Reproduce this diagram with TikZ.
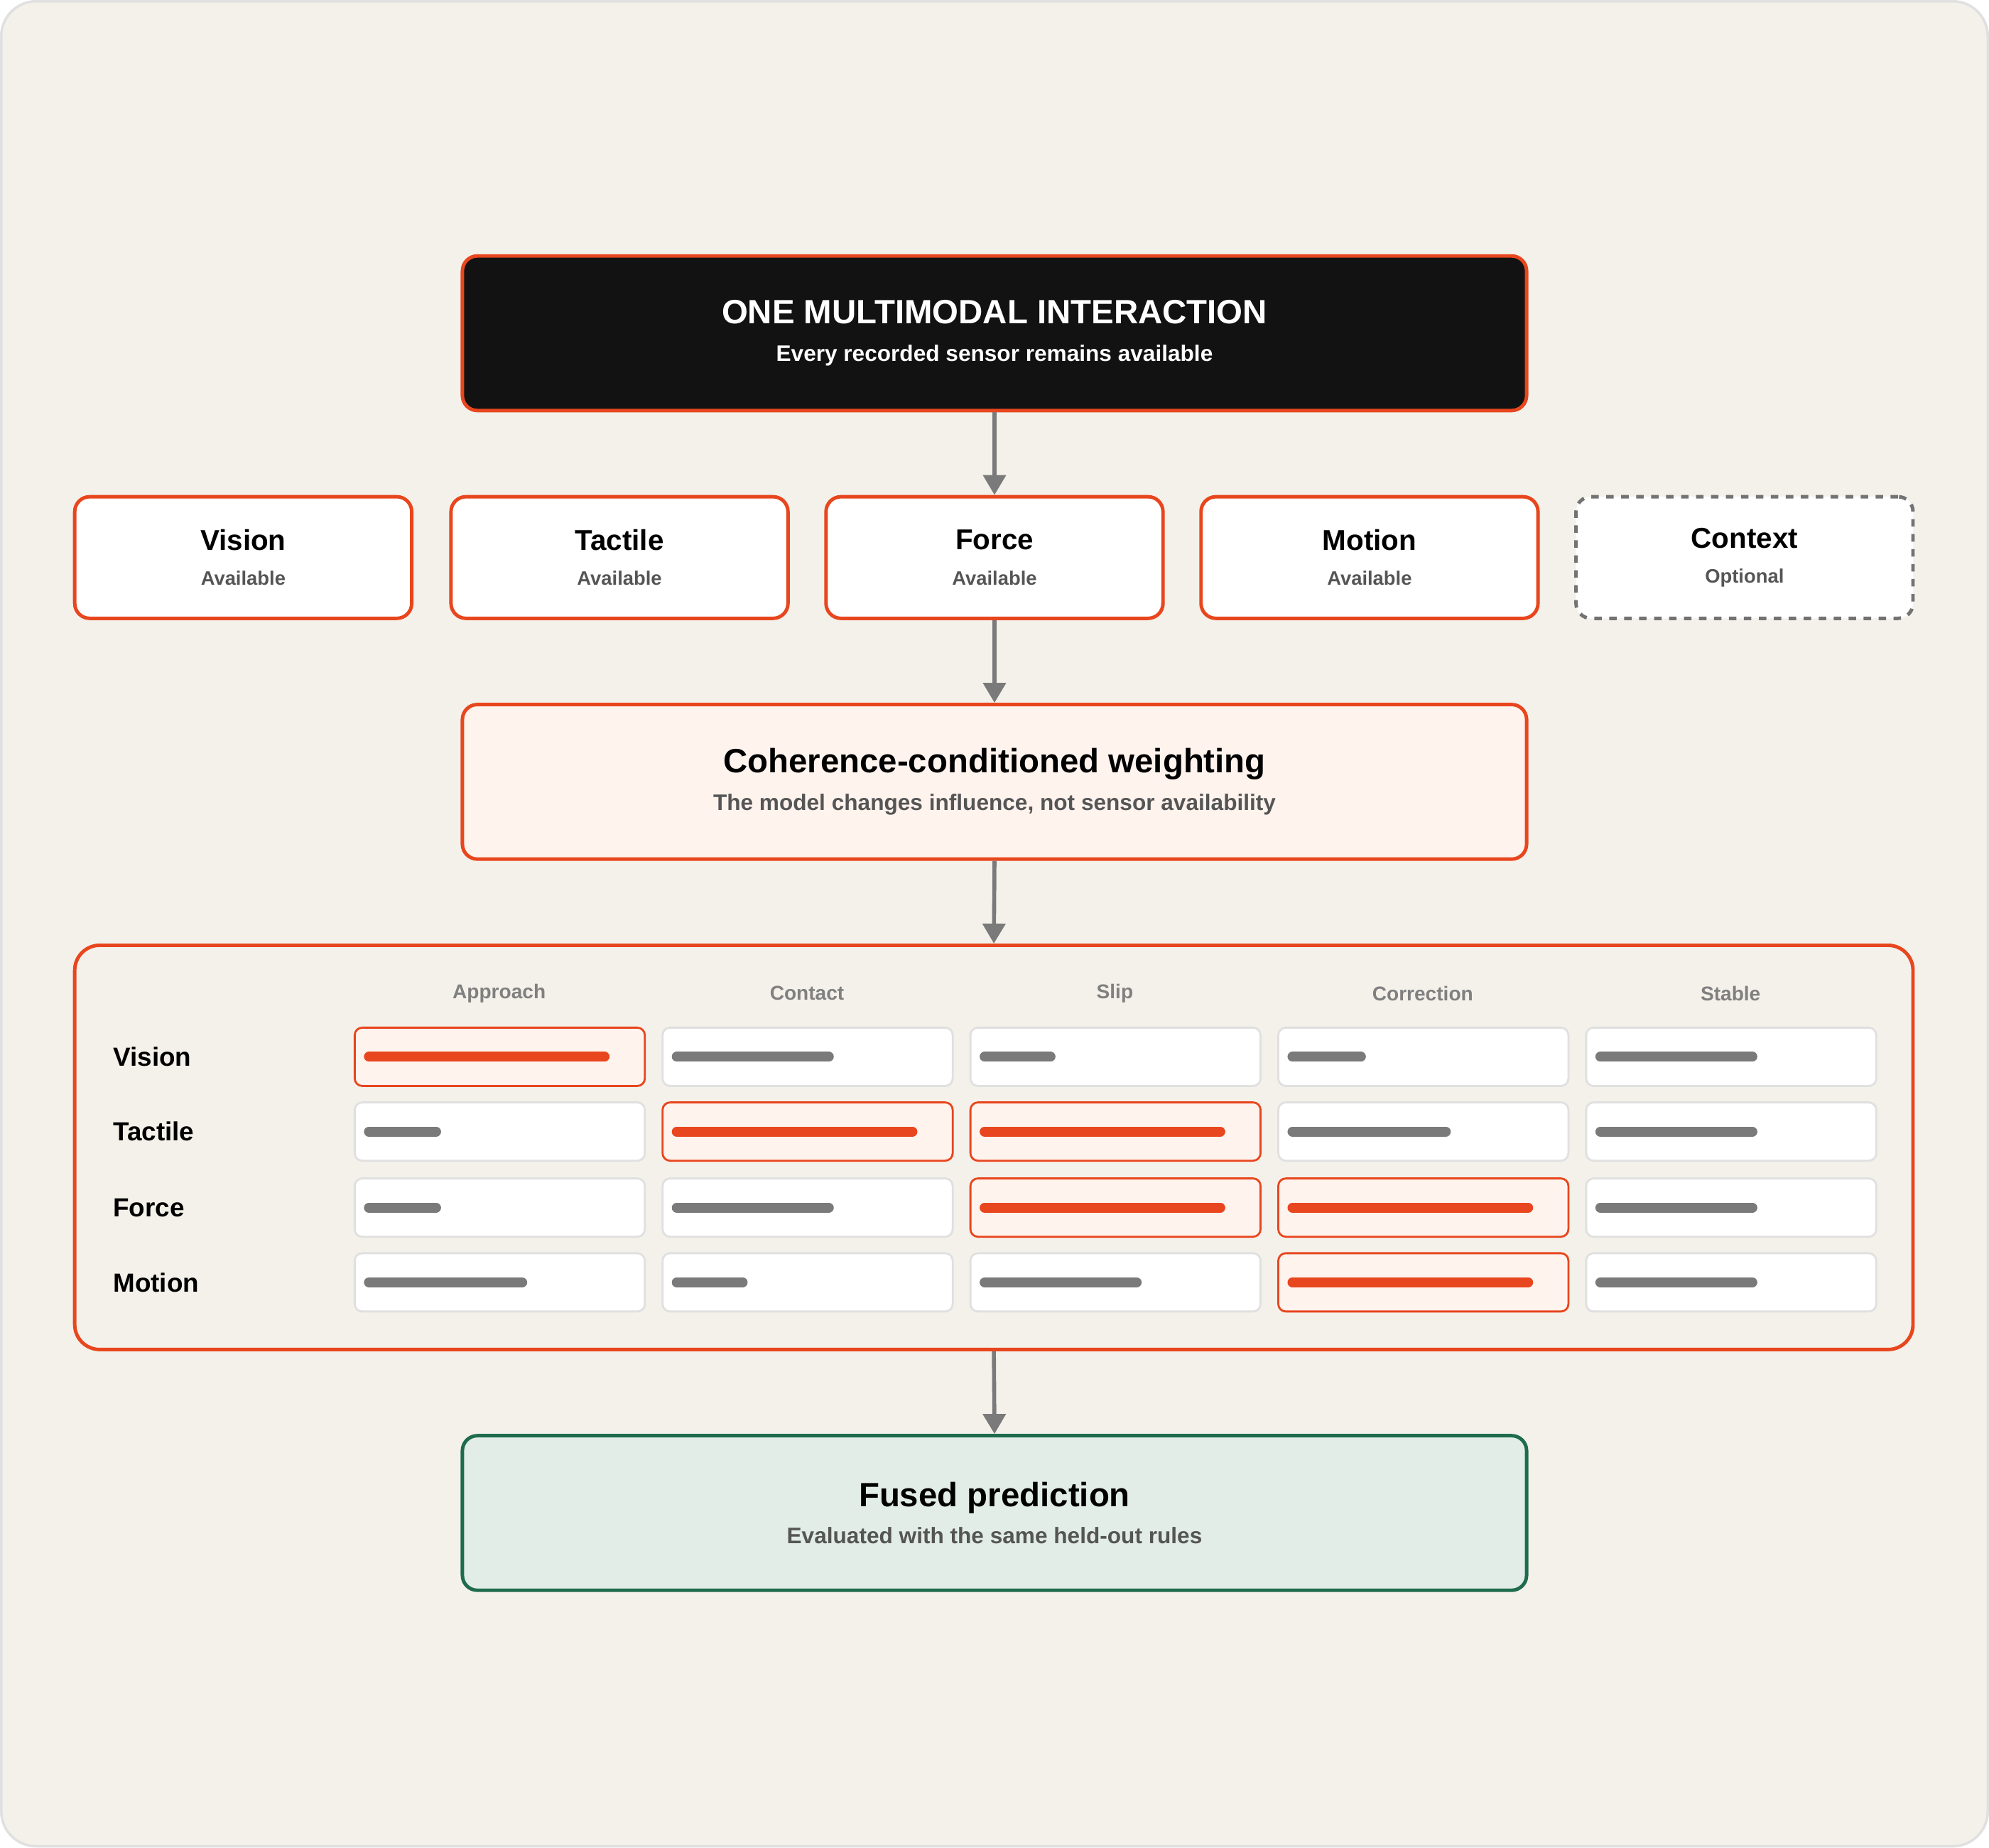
\documentclass[tikz,border=0pt]{standalone}
\usepackage{fontspec}
\setmainfont{Liberation Sans}
\usetikzlibrary{positioning, arrows.meta}
\definecolor{paper}{HTML}{F4F1EA}
\definecolor{accent}{HTML}{E8461E}
\definecolor{softred}{HTML}{FFF3EE}
\definecolor{barGray}{HTML}{7A7A7A}
\definecolor{textGray}{HTML}{555555}
\definecolor{deepGreen}{HTML}{1E6B4E}
\definecolor{softGreen}{HTML}{E1EDE6}
\def\hotkind{o}
\begin{document}
\begin{tikzpicture}[x=0.017857cm, y=-0.017857cm,
    % Styles
    stage/.style={draw=accent, line width=1.4pt, rounded corners=6pt, minimum width=840*0.017857cm, minimum height=122*0.017857cm, align=center},
    sensor/.style={draw=accent, fill=white, line width=1.4pt, rounded corners=6pt, minimum width=266*0.017857cm, minimum height=96*0.017857cm, align=center},
    cell/.style={draw=black!12, fill=white, line width=0.8pt, rounded corners=3pt, minimum width=229*0.017857cm, minimum height=46*0.017857cm},
    hot/.style={cell, draw=accent, fill=softred},
    flow/.style={-{Triangle[length=8pt, width=9pt]}, line width=1.6pt, barGray},
    bar/.style={line width=4pt, line cap=round},
    head/.style={font=\bfseries\fontsize{8}{9}\selectfont, text=black!50},
]
\fill[paper, draw=black!12, line width=1pt, rounded corners=14pt] (0,0) rectangle (1568,1456);
\useasboundingbox (0,0) rectangle (1568,1456);

% Top
\node[stage, fill=black!93] (interaction) at (784,262) {{\bfseries\fontsize{13.5}{16}\selectfont\color{white} ONE MULTIMODAL INTERACTION}\\[3pt]{\bfseries\fontsize{9}{11}\selectfont\color{white} Every recorded sensor remains available}};

% Sensors
\foreach \name/\cx/\state in {Vision/191/Available, Tactile/488/Available, Force/784/Available, Motion/1080/Available}
  \node[sensor] (s-\name) at (\cx,439) {{\bfseries\fontsize{11.5}{14}\selectfont \name}\\[2pt]{\bfseries\fontsize{7.8}{9}\selectfont\color{textGray} \state}};
\node[sensor, draw=black!55, dashed] (s-Context) at (1376,439) {{\bfseries\fontsize{11.5}{14}\selectfont Context}\\[2pt]{\bfseries\fontsize{7.8}{9}\selectfont\color{textGray} Optional}};

% Weighting
\node[stage, fill=softred] (weighting) at (784,616) {{\bfseries\fontsize{13.5}{16}\selectfont Coherence-conditioned weighting}\\[3pt]{\bfseries\fontsize{9}{11}\selectfont\color{textGray} The model changes influence, not sensor availability}};

% Matrix
\node[draw=accent, line width=1.4pt, rounded corners=10pt, minimum width=1451*0.017857cm, minimum height=319*0.017857cm] (matrix) at (783.5,904.5) {};
\foreach \phase [count=\i] in {Approach, Contact, Slip, Correction, Stable}
  \node[head] (h-\i) at (393+243*\i-243,783) {\phase};
\foreach \row/\cy/\bars in {
    Vision/833/{o/190,g/124,g/56,g/58,g/124},
    Tactile/892/{g/57,o/190,o/190,g/125,g/124},
    Force/952/{g/57,g/124,o/190,o/190,g/124},
    Motion/1011/{g/125,g/56,g/124,o/190,g/124}} {
  \node[anchor=west, inner sep=0pt, font=\bfseries\fontsize{10.5}{12}\selectfont] (r-\row) at (88,\cy) {\row};
  \foreach \k/\len [count=\j] in \bars {
    \pgfmathsetmacro{\cx}{393.5+243*(\j-1)}
    \ifx\k\hotkind
      \node[hot] (c-\row-\j) at (\cx,\cy) {};
      \draw[bar, accent] ([xshift=12*0.017857cm]c-\row-\j.west) -- ++(\len-4,0);
    \else
      \node[cell] (c-\row-\j) at (\cx,\cy) {};
      \draw[bar, barGray] ([xshift=12*0.017857cm]c-\row-\j.west) -- ++(\len-4,0);
    \fi
  }
}

% Output
\node[stage, draw=deepGreen, fill=softGreen] (fused) at (784,1193) {{\bfseries\fontsize{13.5}{16}\selectfont Fused prediction}\\[3pt]{\bfseries\fontsize{9}{11}\selectfont\color{textGray} Evaluated with the same held-out rules}};

% Arrows
\draw[flow] (interaction.south) -- (s-Force.north);
\draw[flow] (s-Force.south) -- (weighting.north);
\draw[flow] (weighting.south) -- (matrix.north);
\draw[flow] (matrix.south) -- (fused.north);
\end{tikzpicture}
\end{document}
